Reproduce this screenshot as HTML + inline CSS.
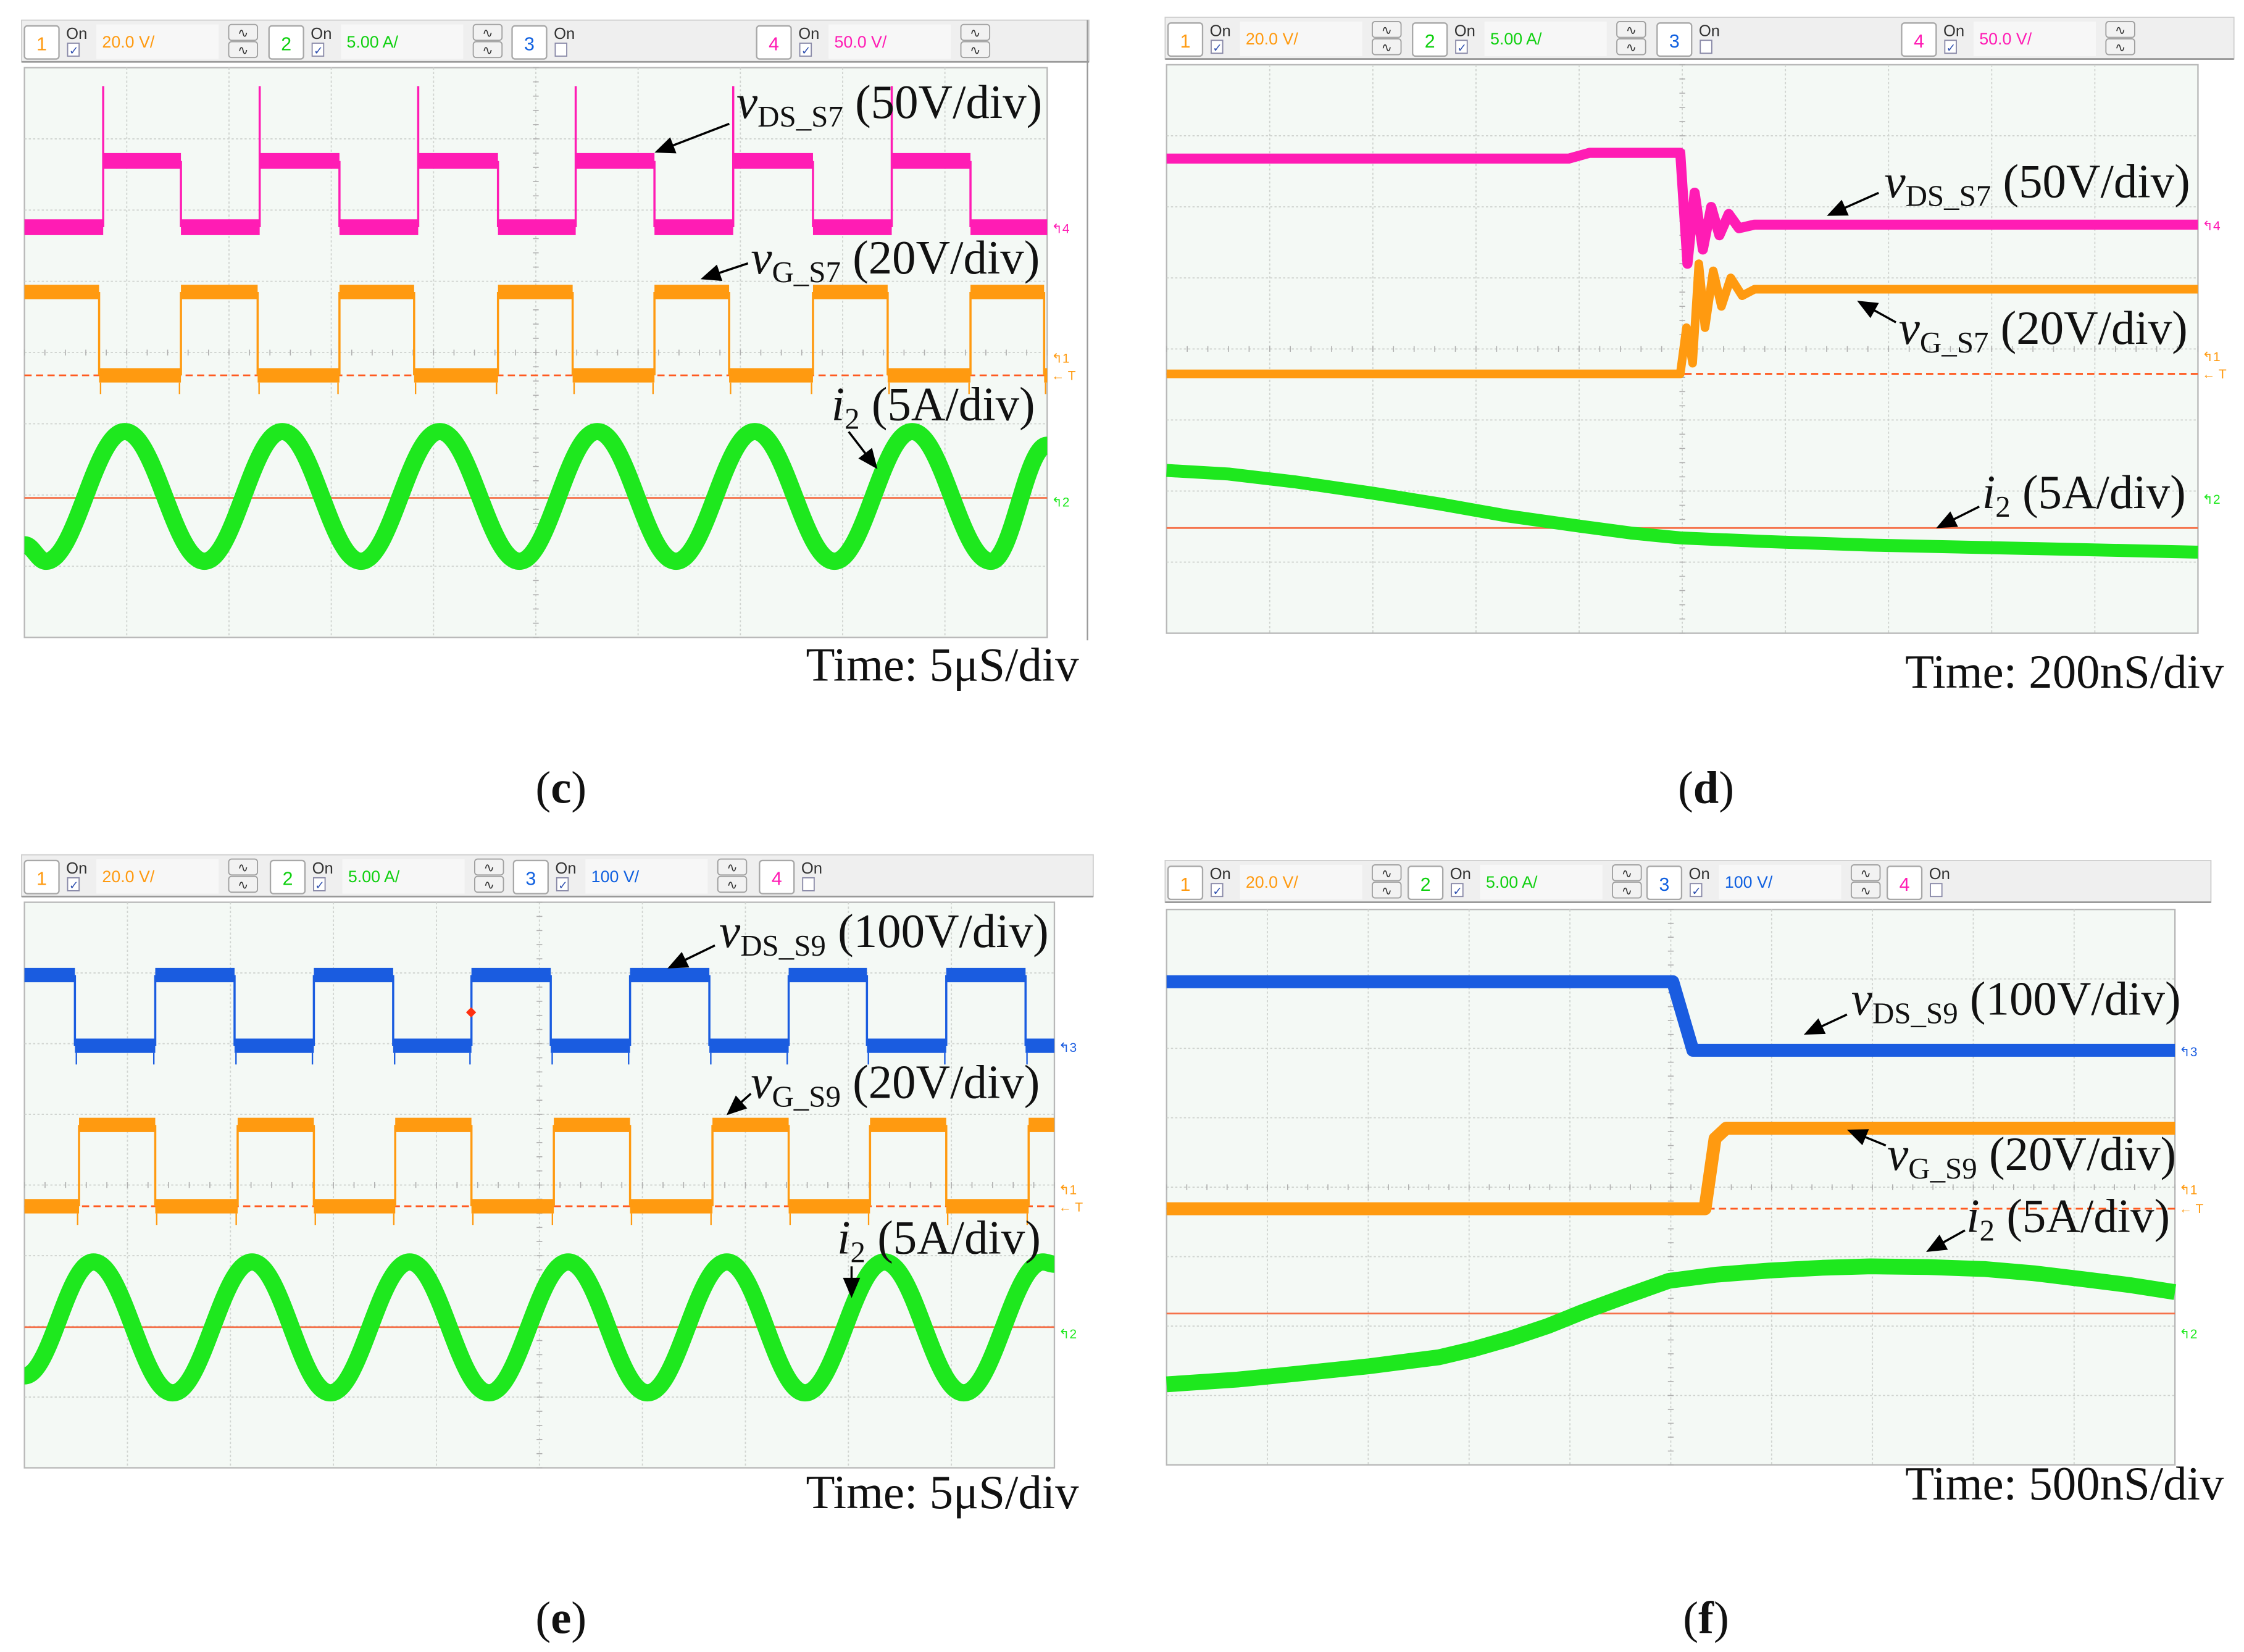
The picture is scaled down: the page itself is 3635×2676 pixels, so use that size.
<!DOCTYPE html>
<html><head><meta charset="utf-8"><style>
html,body{margin:0;padding:0;background:#fff;}
svg{display:block;}
</style></head><body>
<svg id="fig" xmlns="http://www.w3.org/2000/svg" width="3635" height="2676" viewBox="0 0 1560 1148" preserveAspectRatio="none">
<rect width="1560" height="1148" fill="#fff"/>
</svg>
<script>
// ===== Data (time in divisions 0..10, amplitude in divisions from screen centre, + = up) =====
// Panel (c)
const cPinkRise=[0.77,2.30,3.85,5.39,6.93,8.48];
const cPinkFall=[1.53,3.08,4.63,6.16,7.71,9.25];
const cPinkLevels=[1.76,2.69];
const cPinkSpike=[3.74];
const cOrgFall=[0.73,2.28,3.81,5.36,6.89,8.44,9.97];
const cOrgRise=[1.53,3.08,4.63,6.16,7.71,9.25];
const cOrgLevels=[-0.32,0.85];
const cGreenT=[0,0.21,0.98,1.76,2.52,3.29,4.06,4.84,5.60,6.37,7.14,7.92,8.68,9.45,10];
const cGreenV=[-2.7,-2.93,-1.11,-2.93,-1.11,-2.93,-1.11,-2.93,-1.11,-2.93,-1.11,-2.93,-1.11,-2.93,-1.3];
// Panel (d)
const dPinkT=[0,3.9,4.1,4.98,5.05,5.12,5.2,5.28,5.36,5.45,5.55,5.7,10];
const dPinkV=[2.68,2.68,2.76,2.76,1.2,2.2,1.4,2.0,1.6,1.9,1.7,1.75,1.75];
const dOrgT=[0,4.98,5.04,5.1,5.16,5.22,5.3,5.38,5.47,5.58,5.7,10];
const dOrgV=[-0.35,-0.35,0.3,-0.2,1.2,0.3,1.1,0.6,1.0,0.75,0.84,0.84];
const dGreenT=[0,0.6,1.24,2.0,2.64,3.3,4.03,4.5,4.98,5.8,6.82,8.4,10];
const dGreenV=[-1.71,-1.76,-1.87,-2.03,-2.18,-2.35,-2.50,-2.59,-2.66,-2.71,-2.76,-2.81,-2.86];
const dCursor=[-2.52];
// Panel (e)
const eBlueFall=[0.49,2.04,3.58,5.11,6.65,8.18,9.72];
const eBlueRise=[1.27,2.81,4.34,5.88,7.42,8.95];
const eBlueLevels=[1.97,2.97];
const eOrgRise=[0.53,2.07,3.60,5.14,6.68,8.21,9.75];
const eOrgFall=[1.27,2.81,4.34,5.88,7.42,8.95];
const eOrgLevels=[-0.30,0.85];
const eGreenT=[0,0.67,1.44,2.21,2.97,3.74,4.51,5.28,6.05,6.82,7.58,8.35,9.12,9.89,10];
const eGreenV=[-2.7,-1.09,-2.94,-1.09,-2.94,-1.09,-2.94,-1.09,-2.94,-1.09,-2.94,-1.09,-2.94,-1.09,-1.12];
const eCursor=[-2.01];
// Panel (f)
const fBlueT=[0,5.02,5.22,10];
const fBlueV=[2.96,2.96,1.97,1.97];
const fOrgT=[0,5.34,5.44,5.55,10];
const fOrgV=[-0.31,-0.31,0.7,0.85,0.85];
const fGreenT=[0,0.7,1.27,2.0,2.70,3.05,3.41,3.78,4.12,4.55,4.98,5.45,5.98,6.5,6.98,7.55,8.12,8.6,9.12,9.55,10];
const fGreenV=[-2.84,-2.77,-2.69,-2.58,-2.45,-2.33,-2.18,-2.00,-1.80,-1.57,-1.35,-1.26,-1.20,-1.16,-1.14,-1.15,-1.18,-1.24,-1.33,-1.41,-1.51];
const fCursor=[-1.82];

const NS="http://www.w3.org/2000/svg";
const svg=document.getElementById('fig');
const PINK="#ff1cb4",ORG="#ff9a10",GRN="#1ee81e",BLU="#1a5ce0",REDL="#f5724a";

function el(tag,attrs,parent){const e=document.createElementNS(NS,tag);for(const k in attrs)e.setAttribute(k,attrs[k]);(parent||svg).appendChild(e);return e;}

function makeAxes(x0,y0,w,h){
  return {x:t=>x0+t*w/10,y:v=>y0+h/2-v*h/8};
}

function drawFrame(g,p){
  const r=el('rect',{x:p.x0,y:p.y0,width:p.w,height:p.h,fill:'#f4f9f5',stroke:'#b8b8b8','stroke-width':1},g);
  
  
  for(let i=1;i<10;i++){const x=p.x0+i*p.w/10;el('line',{x1:x,y1:p.y0,x2:x,y2:p.y0+p.h,stroke:'#d0d4d0','stroke-width':0.8,'stroke-dasharray':'1.5 1.5'},g);}
  for(let j=1;j<8;j++){const y=p.y0+j*p.h/8;el('line',{x1:p.x0,y1:y,x2:p.x0+p.w,y2:y,stroke:'#d0d4d0','stroke-width':0.8,'stroke-dasharray':'1.5 1.5'},g);}
  const cx=p.x0+p.w/2,cy=p.y0+p.h/2;
  for(let i=0;i<=50;i++){const x=p.x0+i*p.w/50;el('line',{x1:x,y1:cy-2,x2:x,y2:cy+2,stroke:'#b0b0b0','stroke-width':0.7},g);}
  for(let j=0;j<=40;j++){const y=p.y0+j*p.h/40;el('line',{x1:cx-2,y1:y,x2:cx+2,y2:y,stroke:'#b0b0b0','stroke-width':0.7},g);}
}

function header(g,x0,y0,w,chans){
  const b=el('rect',{x:x0,y:y0,width:w,height:29,fill:'#efefef',stroke:'#cfcfcf','stroke-width':0.8},g);
  
  
  el('line',{x1:x0,y1:y0+29,x2:x0+w,y2:y0+29,stroke:'#9a9a9a','stroke-width':1.2},g);
  chans.forEach(c=>{
    const cg=el('g',{},g);
    
    
    el('rect',{x:c.x,y:y0+4,width:24,height:23,rx:2,fill:'#fff',stroke:'#a8a8a8','stroke-width':1},cg);
    const t=el('text',{x:c.x+12,y:y0+21,'font-family':'Liberation Sans, sans-serif','font-size':13,fill:c.col,'text-anchor':'middle'},cg);t.textContent=c.n;
    const on=el('text',{x:c.x+29,y:y0+13,'font-family':'Liberation Sans, sans-serif','font-size':11,fill:'#333'},cg);on.textContent='On';
    el('rect',{x:c.x+30,y:y0+16,width:8,height:9,fill:'#fff',stroke:'#8a8aa8','stroke-width':0.8},cg);
    if(c.on){const ck=el('text',{x:c.x+31,y:y0+24,'font-family':'DejaVu Sans, sans-serif','font-size':8,fill:'#3050b0'},cg);ck.textContent='✓';}
    if(c.val){
      el('rect',{x:c.x+50,y:y0+3,width:85,height:24,fill:'#f7f7f7'},cg);
      const v=el('text',{x:c.x+54,y:y0+19,'font-family':'Liberation Sans, sans-serif','font-size':11.5,fill:c.col},cg);v.textContent=c.val;
    }
    if(c.btn!==false){
      [y0+3,y0+15].forEach((yy,i)=>{el('rect',{x:c.x+142,y:yy,width:20,height:11,rx:2,fill:'#f2f2f2',stroke:'#a0a0a0','stroke-width':0.8},cg);
        const s=el('text',{x:c.x+152,y:yy+9,'font-family':'DejaVu Sans, sans-serif','font-size':9,fill:'#333','text-anchor':'middle'},cg);s.textContent='∿';});
    }
  });
}

function squareWave(g,ax,ups,downs,levels,startHigh,col,bw,name,spikeV){
  const ev=[];ups.forEach(t=>ev.push([t,1]));downs.forEach(t=>ev.push([t,0]));ev.sort((a,b)=>a[0]-b[0]);
  let lvl=startHigh?1:0,t0=0;
  const seg=(a,b,l)=>{const ln=el('line',{x1:ax.x(a),y1:ax.y(levels[l]),x2:ax.x(b),y2:ax.y(levels[l]),stroke:col,'stroke-width':bw},g);
    
    };
  ev.forEach(([t,to])=>{seg(t0,t,lvl);
    const topY=(to===1&&spikeV!==undefined)?ax.y(spikeV):ax.y(levels[1]);
    const e=el('line',{x1:ax.x(t),y1:topY,x2:ax.x(t),y2:ax.y(levels[0]),stroke:col,'stroke-width':1.5},g);
    
    
    if(!spikeV){el('line',{x1:ax.x(t)+(to?-1:1),y1:ax.y(levels[0])+bw/2,x2:ax.x(t)+(to?-1:1),y2:ax.y(levels[0])+bw/2+8,stroke:col,'stroke-width':1},g);}
    lvl=to;t0=t;});
  seg(t0,10,lvl);
}

function polyWave(g,ax,T,V,col,bw,name){
  let d='';T.forEach((t,i)=>{d+=(i?'L':'M')+ax.x(t).toFixed(1)+','+ax.y(V[i]).toFixed(1);});
  const p=el('path',{d:d,fill:'none',stroke:col,'stroke-width':bw,'stroke-linejoin':'round'},g);
  
  
}
function smoothWave(g,ax,T,V,col,bw,name){
  let d='M'+ax.x(T[0]).toFixed(1)+','+ax.y(V[0]).toFixed(1);
  for(let i=1;i<T.length;i++){const x0=ax.x(T[i-1]),x1=ax.x(T[i]),y0=ax.y(V[i-1]),y1=ax.y(V[i]),dx=(x1-x0)*0.38;
    d+=`C${(x0+dx).toFixed(1)},${y0.toFixed(1)} ${(x1-dx).toFixed(1)},${y1.toFixed(1)} ${x1.toFixed(1)},${y1.toFixed(1)}`;}
  const p=el('path',{d:d,fill:'none',stroke:col,'stroke-width':bw,'stroke-linejoin':'round'},g);
  
  
}
function hline(g,ax,v,col,dash,name){
  const l=el('line',{x1:ax.x(0),y1:ax.y(v),x2:ax.x(10),y2:ax.y(v),stroke:col,'stroke-width':1.2},g);
  if(dash)l.setAttribute('stroke-dasharray','5 3');
  
  
}
function label(g,x,y,v,sub,rest,name){
  const t=el('text',{x:x,y:y,'font-family':'Liberation Serif, serif','font-size':33,fill:'#111'},g);
  
  
  const a=el('tspan',{'font-style':'italic'},t);a.textContent=v;
  const b=el('tspan',{'font-size':21,dy:6},t);b.textContent=sub;
  const c=el('tspan',{dy:-6},t);c.textContent=' '+rest;
}
function arrow(g,x1,y1,x2,y2){
  const a=Math.atan2(y2-y1,x2-x1),L=14,W=6;
  el('line',{x1:x1,y1:y1,x2:x2-Math.cos(a)*L*0.8,y2:y2-Math.sin(a)*L*0.8,stroke:'#000','stroke-width':1.5},g);
  const px=x2-Math.cos(a)*L,py=y2-Math.sin(a)*L;
  const p=el('polygon',{points:`${x2},${y2} ${px-Math.sin(a)*W},${py+Math.cos(a)*W} ${px+Math.sin(a)*W},${py-Math.cos(a)*W}`,fill:'#000'},g);
  
  
}
function sideMarks(g,x,items){
  items.forEach(it=>{const t=el('text',{x:x,y:it.y,'font-family':'Liberation Sans, sans-serif','font-size':9,fill:it.c},g);t.textContent=it.s;});
}
function textAt(g,x,y,s,size,anchor,weight,name){
  const t=el('text',{x:x,y:y,'font-family':'Liberation Serif, serif','font-size':size,fill:'#111','text-anchor':anchor,'font-weight':weight||'normal'},g);
  t.textContent=s;
  
  
  return t;
}
function panelLabel(g,x,y,ch,name){
  const t=el('text',{x:x,y:y,'font-family':'Liberation Serif, serif','font-size':32,fill:'#111','text-anchor':'middle'},g);
  
  
  const a=el('tspan',{},t);a.textContent='(';
  const b=el('tspan',{'font-weight':'bold'},t);b.textContent=ch;
  const c=el('tspan',{},t);c.textContent=')';
}

// ---------- Panel (c)
(function(){
  const g=el('g',{});
  const p={x0:17,y0:47,w:711,h:396};
  header(g,15,14,742,[{n:'1',x:17,col:ORG,on:1,val:'20.0 V/'},{n:'2',x:187,col:'#10d010',on:1,val:'5.00 A/'},{n:'3',x:356,col:'#1060e0',on:0,btn:false},{n:'4',x:526,col:PINK,on:1,val:'50.0 V/'}]);
  el('line',{x1:756,y1:14,x2:756,y2:445,stroke:'#999','stroke-width':1},g);
  drawFrame(g,p);const ax=makeAxes(p.x0,p.y0,p.w,p.h);
  hline(g,ax,-2.04,REDL,false,'cursor-line');
  hline(g,ax,cOrgLevels[0],'#ff5a20',true,'trigger-level-line');
  squareWave(g,ax,cPinkRise,cPinkFall,cPinkLevels,false,PINK,11,'vds-s7-trace',cPinkSpike[0]);
  squareWave(g,ax,cOrgRise,cOrgFall,cOrgLevels,true,ORG,10,'vg-s7-trace');
  smoothWave(g,ax,cGreenT,cGreenV,GRN,12,'i2-trace');
  sideMarks(g,731,[{y:162,s:'↰4',c:PINK},{y:252,s:'↰1',c:ORG},{y:264,s:'← T',c:ORG},{y:352,s:'↰2',c:GRN}]);
  label(g,512,82,'v','DS_S7','(50V/div)','vds-s7-label');arrow(g,507,86,455,106);
  label(g,522,190,'v','G_S7','(20V/div)','vg-s7-label');arrow(g,520,183,487,194);
  label(g,578,292,'i','2','(5A/div)','i2-label');arrow(g,590,300,610,326);
  textAt(g,750,473,'Time: 5μS/div',33,'end','normal','time-scale-label');
  panelLabel(g,390,558,'c','panel-label-c');
})();
// ---------- Panel (d)
(function(){
  const g=el('g',{});
  const p={x0:811,y0:45,w:717,h:395};
  header(g,810,12,743,[{n:'1',x:812,col:ORG,on:1,val:'20.0 V/'},{n:'2',x:982,col:'#10d010',on:1,val:'5.00 A/'},{n:'3',x:1152,col:'#1060e0',on:0,btn:false},{n:'4',x:1322,col:PINK,on:1,val:'50.0 V/'}]);
  drawFrame(g,p);const ax=makeAxes(p.x0,p.y0,p.w,p.h);
  hline(g,ax,dCursor[0],REDL,false,'cursor-line');
  hline(g,ax,dOrgV[0],'#ff5a20',true,'trigger-level-line');
  polyWave(g,ax,dPinkT,dPinkV,PINK,7,'vds-s7-trace');
  polyWave(g,ax,dOrgT,dOrgV,ORG,6,'vg-s7-trace');
  polyWave(g,ax,dGreenT,dGreenV,GRN,9,'i2-trace');
  sideMarks(g,1531,[{y:160,s:'↰4',c:PINK},{y:251,s:'↰1',c:ORG},{y:263,s:'← T',c:ORG},{y:350,s:'↰2',c:GRN}]);
  label(g,1310,137,'v','DS_S7','(50V/div)','vds-s7-label');arrow(g,1306,134,1270,150);
  label(g,1320,239,'v','G_S7','(20V/div)','vg-s7-label');arrow(g,1318,224,1291,209);
  label(g,1378,353,'i','2','(5A/div)','i2-label');arrow(g,1376,352,1346,367);
  textAt(g,1546,478,'Time: 200nS/div',33,'end','normal','time-scale-label');
  panelLabel(g,1186,558,'d','panel-label-d');
})();
// ---------- Panel (e)
(function(){
  const g=el('g',{});
  const p={x0:17,y0:627,w:716,h:393};
  header(g,15,594,745,[{n:'1',x:17,col:ORG,on:1,val:'20.0 V/'},{n:'2',x:188,col:'#10d010',on:1,val:'5.00 A/'},{n:'3',x:357,col:'#1060e0',on:1,val:'100 V/'},{n:'4',x:528,col:PINK,on:0,btn:false}]);
  drawFrame(g,p);const ax=makeAxes(p.x0,p.y0,p.w,p.h);
  hline(g,ax,eCursor[0],REDL,false,'cursor-line');
  hline(g,ax,eOrgLevels[0],'#ff5a20',true,'trigger-level-line');
  squareWave(g,ax,eBlueRise,eBlueFall,eBlueLevels,true,BLU,10,'vds-s9-trace');
  squareWave(g,ax,eOrgRise,eOrgFall,eOrgLevels,false,ORG,10,'vg-s9-trace');
  smoothWave(g,ax,eGreenT,eGreenV,GRN,12,'i2-trace');
  el('rect',{x:325,y:701,width:5,height:5,fill:'#ff3010',transform:'rotate(45 327.5 703.5)'},g);
  sideMarks(g,736,[{y:731,s:'↰3',c:BLU},{y:830,s:'↰1',c:ORG},{y:842,s:'← T',c:ORG},{y:930,s:'↰2',c:GRN}]);
  label(g,500,658,'v','DS_S9','(100V/div)','vds-s9-label');arrow(g,497,657,464,673);
  label(g,522,763,'v','G_S9','(20V/div)','vg-s9-label');arrow(g,522,760,505,775);
  label(g,582,871,'i','2','(5A/div)','i2-label');arrow(g,592,880,592,902);
  textAt(g,750,1048,'Time: 5μS/div',33,'end','normal','time-scale-label');
  panelLabel(g,390,1135,'e','panel-label-e');
})();
// ---------- Panel (f)
(function(){
  const g=el('g',{});
  const p={x0:811,y0:632,w:701,h:386};
  header(g,810,598,727,[{n:'1',x:812,col:ORG,on:1,val:'20.0 V/'},{n:'2',x:979,col:'#10d010',on:1,val:'5.00 A/'},{n:'3',x:1145,col:'#1060e0',on:1,val:'100 V/'},{n:'4',x:1312,col:PINK,on:0,btn:false}]);
  drawFrame(g,p);const ax=makeAxes(p.x0,p.y0,p.w,p.h);
  hline(g,ax,fCursor[0],REDL,false,'cursor-line');
  hline(g,ax,fOrgV[0],'#ff5a20',true,'trigger-level-line');
  polyWave(g,ax,fBlueT,fBlueV,BLU,9,'vds-s9-trace');
  polyWave(g,ax,fOrgT,fOrgV,ORG,9,'vg-s9-trace');
  polyWave(g,ax,fGreenT,fGreenV,GRN,11,'i2-trace');
  sideMarks(g,1515,[{y:734,s:'↰3',c:BLU},{y:830,s:'↰1',c:ORG},{y:843,s:'← T',c:ORG},{y:930,s:'↰2',c:GRN}]);
  label(g,1287,705,'v','DS_S9','(100V/div)','vds-s9-label');arrow(g,1284,705,1254,719);
  label(g,1312,813,'v','G_S9','(20V/div)','vg-s9-label');arrow(g,1311,796,1284,785);
  label(g,1367,856,'i','2','(5A/div)','i2-label');arrow(g,1366,855,1339,870);
  textAt(g,1546,1042,'Time: 500nS/div',33,'end','normal','time-scale-label');
  panelLabel(g,1186,1135,'f','panel-label-f');
})();
</script>
</body></html>
